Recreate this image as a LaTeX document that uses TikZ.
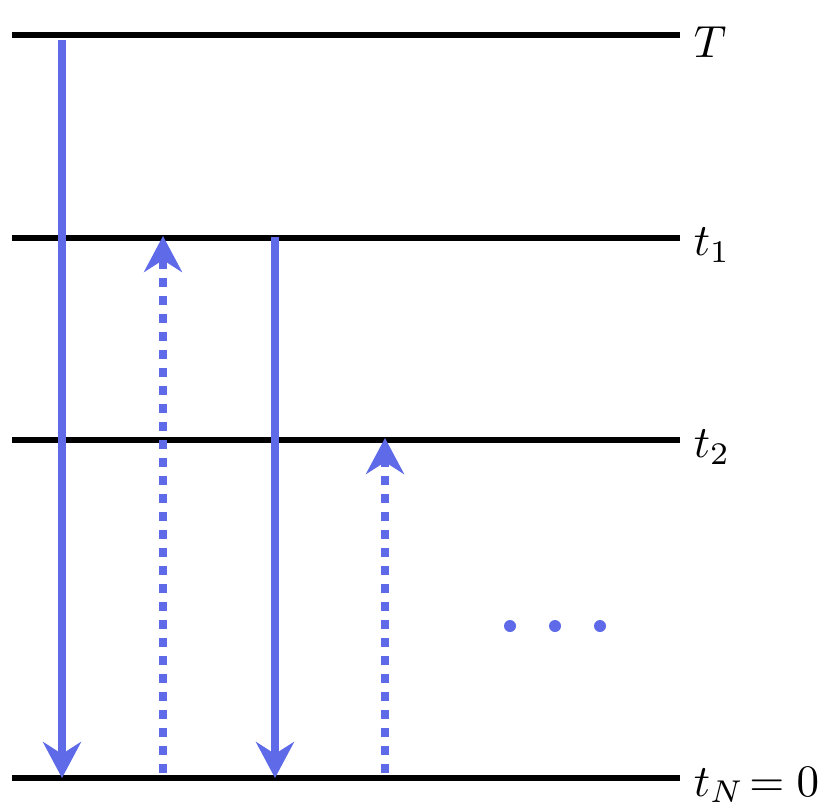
\documentclass[tikz,border=0pt]{standalone}
\usetikzlibrary{arrows.meta}
\definecolor{arrblue}{RGB}{94,106,232}
\begin{document}
\begin{tikzpicture}[x=1pt,y=-1pt,
  level/.style={line width=5.5pt,black},
  lbl/.style={anchor=west,inner sep=0pt,scale=4.5},
  down/.style={line width=8.5pt,arrblue,-{Stealth[length=36pt,width=38pt,inset=12pt]}},
  up/.style={line width=8.5pt,arrblue,dash pattern=on 9pt off 9pt,-{Stealth[length=36pt,width=38pt,inset=12pt]}},
  dotb/.style={circle,fill=arrblue,inner sep=0pt,minimum size=12pt}]
\useasboundingbox (0,0) rectangle (830,808);
% level lines
\coordinate (Ta) at (12,35);  \coordinate (Tb) at (680,35);
\coordinate (Aa) at (12,238); \coordinate (Ab) at (680,238);
\coordinate (Ba) at (12,440); \coordinate (Bb) at (680,440);
\coordinate (Na) at (12,778); \coordinate (Nb) at (680,778);
\draw[level] (Ta) -- (Tb);
\draw[level] (Aa) -- (Ab);
\draw[level] (Ba) -- (Bb);
\draw[level] (Na) -- (Nb);
\node[lbl] (lT) at (693,42) {$T$};
\node[lbl] (l1) at (693,245) {$t_1$};
\node[lbl] (l2) at (693,447) {$t_2$};
\node[lbl] (lN) at (693,785) {$t_N\!=0$};
% arrows
\coordinate (s1a) at (62,40);   \coordinate (s1b) at (62,778);
\coordinate (d1a) at (163,773); \coordinate (d1b) at (163,236);
\coordinate (s2a) at (275,237); \coordinate (s2b) at (275,778);
\coordinate (d2a) at (385,773); \coordinate (d2b) at (385,438);
\draw[down] (s1a) -- (s1b);
\draw[up] (d1a) -- (d1b);
\draw[down] (s2a) -- (s2b);
\draw[up] (d2a) -- (d2b);
% dots
\node[dotb] (e1) at (510,626) {};
\node[dotb] (e2) at (555,626) {};
\node[dotb] (e3) at (600,626) {};
\end{tikzpicture}
\end{document}
